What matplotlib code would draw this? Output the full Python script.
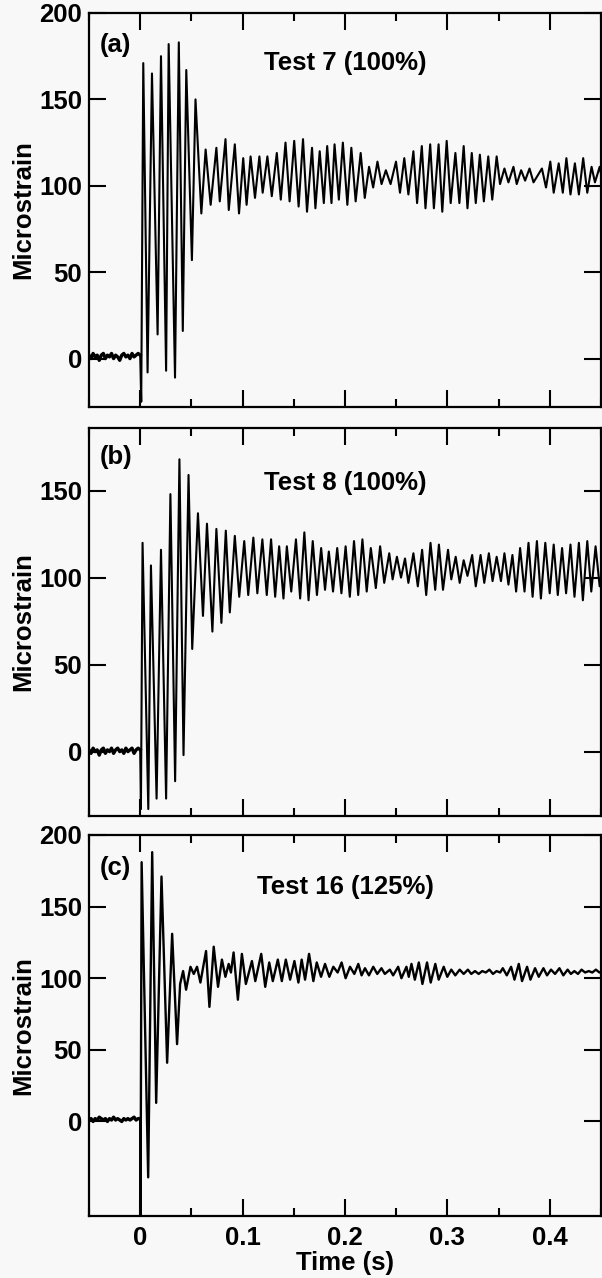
import matplotlib
matplotlib.use("Agg")
import matplotlib.pyplot as plt
from matplotlib.ticker import MultipleLocator, FixedLocator

plt.rcParams['font.family'] = ['Liberation Sans', 'DejaVu Sans']
plt.rcParams['font.weight'] = 'bold'

# ---------------- data ----------------
# pre-trigger baseline samples (time in s)
pre_t = [-0.050, -0.048, -0.046, -0.044, -0.042, -0.040, -0.038, -0.036, -0.034, -0.032,
         -0.030, -0.028, -0.026, -0.024, -0.022, -0.020, -0.018, -0.016, -0.014, -0.012,
         -0.010, -0.008, -0.006, -0.004, -0.002]
pre_a = [2, 0, 3, 1, 2, -1, 2, 3, 0, 2, 1, 3, 0, 2, 1, -1, 2, 3, 1, 2, 0, 3, 1, 2, 3]
pre_b = [1, -1, 2, 0, 1, -2, 1, 2, -1, 1, 0, 2, -1, 1, 2, 0, 1, -1, 2, 0, 1, 2, -1, 1, 2]
pre_c = [1, 2, 0, 2, 1, 3, 2, 1, 2, 0, 2, 1, 3, 1, 2, 1, 0, 2, 1, 2, 1, 2, 3, 1, 2]

# Test 7 : successive peaks / troughs of the strain trace
a_t = [0.0, 0.001, 0.003, 0.0072, 0.0115, 0.017, 0.0203, 0.0253, 0.0278, 0.034,
       0.0377, 0.0416, 0.045, 0.0505, 0.054, 0.0597, 0.0639, 0.0688, 0.0744, 0.0777,
       0.0833, 0.0865, 0.0924, 0.0965, 0.1006, 0.1039, 0.1078, 0.1121, 0.1164, 0.1196,
       0.1242, 0.1285, 0.1334, 0.1373, 0.1419, 0.1459, 0.1504, 0.1547, 0.159, 0.1629,
       0.1678, 0.1711, 0.1753, 0.1793, 0.1826, 0.1868, 0.1898, 0.194, 0.1979, 0.2023,
       0.2062, 0.2104, 0.2153, 0.2193, 0.2235, 0.2275, 0.2317, 0.2357, 0.2399, 0.2445,
       0.2498, 0.2537, 0.2579, 0.2619, 0.2668, 0.2704, 0.275, 0.2786, 0.2832, 0.2868,
       0.2914, 0.295, 0.2993, 0.3032, 0.3078, 0.3117, 0.3159, 0.3196, 0.3238, 0.3277,
       0.3317, 0.3356, 0.3399, 0.3438, 0.3481, 0.3514, 0.3557, 0.3596, 0.3645, 0.3677,
       0.372, 0.3759, 0.3802, 0.3841, 0.3923, 0.3963, 0.4005, 0.4038, 0.4087, 0.4127,
       0.4162, 0.4202, 0.4245, 0.4284, 0.4326, 0.4366, 0.4408, 0.4441, 0.4487, 0.452]
a_v = [2, -25, 171, -8, 165, 14, 175, -7, 182, -11,
       183, 16, 167, 57, 150, 84, 121, 89, 122, 91,
       127, 86, 124, 84, 116, 89, 117, 93, 117, 96,
       117, 94, 119, 92, 125, 91, 126, 88, 127, 85,
       122, 87, 120, 90, 123, 90, 124, 92, 125, 89,
       122, 91, 119, 93, 111, 99, 114, 101, 109, 101,
       114, 96, 116, 95, 120, 90, 123, 87, 124, 87,
       124, 85, 126, 90, 119, 90, 123, 87, 119, 90,
       118, 91, 117, 92, 117, 101, 110, 102, 111, 101,
       109, 103, 110, 102, 110, 99, 114, 96, 113, 96,
       116, 95, 113, 95, 116, 96, 111, 102, 111, 101]

# Test 8
b_t = [0.0, 0.0007, 0.0023, 0.0079, 0.0105, 0.016, 0.0203, 0.0253, 0.0295, 0.0341,
       0.0383, 0.0423, 0.0472, 0.0508, 0.0564, 0.0613, 0.0652, 0.0705, 0.0744, 0.0793,
       0.0836, 0.0875, 0.0924, 0.0967, 0.1016, 0.1055, 0.1105, 0.1144, 0.1193, 0.1236,
       0.1278, 0.1318, 0.1357, 0.1399, 0.1432, 0.1475, 0.1521, 0.1562, 0.1603, 0.1644,
       0.1685, 0.1726, 0.1767, 0.1805, 0.1842, 0.1883, 0.1924, 0.1965, 0.2006, 0.2047,
       0.2088, 0.2129, 0.217, 0.2212, 0.2252, 0.2301, 0.2343, 0.2383, 0.2432, 0.2465,
       0.2507, 0.2547, 0.2586, 0.2619, 0.2668, 0.2711, 0.2753, 0.2793, 0.2835, 0.2881,
       0.2917, 0.2957, 0.3006, 0.3038, 0.3081, 0.312, 0.3159, 0.3196, 0.3242, 0.3277,
       0.3324, 0.336, 0.3405, 0.3441, 0.3481, 0.3523, 0.3557, 0.3596, 0.3635, 0.3671,
       0.371, 0.3753, 0.3792, 0.3832, 0.3874, 0.3913, 0.3956, 0.3999, 0.4038, 0.4078,
       0.412, 0.4159, 0.4202, 0.4241, 0.4284, 0.4323, 0.4366, 0.4405, 0.4447, 0.4487,
       0.452]
b_v = [1, -33, 120, -33, 107, -27, 116, -27, 148, -17,
       168, -2, 159, 59, 137, 78, 131, 69, 128, 74,
       127, 80, 124, 89, 121, 90, 123, 91, 122, 90,
       122, 89, 118, 88, 118, 92, 122, 88, 126, 87,
       121, 90, 117, 93, 115, 92, 117, 91, 118, 89,
       121, 90, 122, 92, 117, 94, 118, 97, 114, 99,
       112, 100, 111, 97, 114, 95, 116, 90, 120, 93,
       119, 93, 116, 99, 112, 97, 110, 101, 113, 95,
       113, 97, 114, 98, 112, 98, 114, 96, 113, 92,
       117, 92, 120, 89, 121, 88, 120, 91, 119, 90,
       117, 91, 119, 89, 120, 87, 121, 92, 118, 95,
       105]

# Test 16
c_t = [0.0, 0.0003, 0.0014, 0.0078, 0.0117, 0.0156, 0.0208, 0.0263, 0.0312, 0.036,
       0.039, 0.0419, 0.0448, 0.0491, 0.0523, 0.0555, 0.0588, 0.0643, 0.0676, 0.0718,
       0.076, 0.0798, 0.0832, 0.0864, 0.0886, 0.0912, 0.0954, 0.0993, 0.1032, 0.1091,
       0.1124, 0.1182, 0.1221, 0.126, 0.1295, 0.1344, 0.1383, 0.1422, 0.1464, 0.1506,
       0.1545, 0.1577, 0.161, 0.1649, 0.1691, 0.1724, 0.1766, 0.1805, 0.1847, 0.1886,
       0.1928, 0.1967, 0.2006, 0.2049, 0.2091, 0.213, 0.2162, 0.2195, 0.2234, 0.2276,
       0.2315, 0.2356, 0.2389, 0.2438, 0.247, 0.2519, 0.2551, 0.26, 0.2623, 0.2649,
       0.2682, 0.2721, 0.2756, 0.2801, 0.2837, 0.2882, 0.2915, 0.2964, 0.2999, 0.3038,
       0.3077, 0.312, 0.3159, 0.32, 0.3233, 0.327, 0.3305, 0.334, 0.3375, 0.341,
       0.3445, 0.348, 0.3515, 0.3541, 0.358, 0.3622, 0.3655, 0.3697, 0.3729, 0.3778,
       0.3811, 0.3856, 0.3892, 0.3938, 0.3973, 0.4012, 0.4051, 0.4094, 0.4132, 0.4174,
       0.4206, 0.424, 0.4275, 0.431, 0.4345, 0.438, 0.4415, 0.445, 0.4485, 0.452]
c_v = [2, -70, 181, -39, 188, 13, 171, 41, 131, 54,
       96, 105, 92, 108, 103, 108, 97, 119, 80, 122,
       94, 113, 101, 110, 104, 118, 85, 117, 96, 112,
       98, 117, 94, 111, 98, 113, 98, 113, 99, 112,
       97, 113, 99, 117, 98, 111, 101, 110, 101, 108,
       104, 111, 100, 108, 103, 110, 102, 107, 102, 108,
       103, 107, 103, 106, 102, 108, 100, 108, 101, 110,
       99, 111, 96, 111, 97, 110, 99, 108, 101, 106,
       102, 106, 103, 106, 103, 105, 103, 105, 104, 106,
       103, 105, 104, 107, 102, 108, 99, 110, 98, 108,
       99, 107, 101, 107, 102, 106, 103, 107, 102, 106,
       103, 105, 103, 106, 104, 105, 104, 106, 104, 105]

panels = [
    dict(tag="(a)", title="Test 7 (100%)", pre=pre_a, t=a_t, v=a_v,
         ylim=(-28, 200), yticks=[0, 50, 100, 150, 200], tag_y=0.919, title_y=0.873),
    dict(tag="(b)", title="Test 8 (100%)", pre=pre_b, t=b_t, v=b_v,
         ylim=(-37, 186), yticks=[0, 50, 100, 150], tag_y=0.925, title_y=0.858),
    dict(tag="(c)", title="Test 16 (125%)", pre=pre_c, t=c_t, v=c_v,
         ylim=(-66, 200), yticks=[0, 50, 100, 150, 200], tag_y=0.913, title_y=0.864),
]
xticks = [0, 0.1, 0.2, 0.3, 0.4]
xticklabels = ["0", "0.1", "0.2", "0.3", "0.4"]

# ---------------- figure ----------------
W, H = 602, 1278
fig = plt.figure(figsize=(W / 100, H / 100), dpi=100, facecolor='#f8f8f8')
boxes = [(13, 407), (428, 816), (835, 1216)]
left_px, right_px = 89, 601
FS = 18.5
trace_lw = [1.5, 1.5, 1.7]

for i, (p, (top, bot)) in enumerate(zip(panels, boxes)):
    ax = fig.add_axes([left_px / W, 1 - bot / H, (right_px - left_px) / W, (bot - top) / H])
    ax.set_facecolor('#f8f8f8')
    ax.plot(pre_t + [p["t"][0]], p["pre"] + [p["v"][0]], color='black', lw=2.4,
            solid_joinstyle='round')
    ax.plot(p["t"], p["v"], color='black', lw=trace_lw[i], solid_joinstyle='round')
    ax.set_xlim(-0.05, 0.45)
    ax.set_ylim(*p["ylim"])
    ax.xaxis.set_major_locator(FixedLocator(xticks))
    ax.xaxis.set_minor_locator(MultipleLocator(0.05))
    ax.set_yticks(p["yticks"])
    ax.tick_params(which='both', direction='in', top=True, right=True, width=1.5,
                   labelsize=FS, pad=5)
    ax.tick_params(which='major', length=12)
    ax.tick_params(which='minor', length=6)
    ax.tick_params(axis='y', which='minor', left=False, right=False)
    for s in ax.spines.values():
        s.set_linewidth(1.6)
    for lab in ax.get_yticklabels():
        lab.set_fontweight('bold')
    if i < 2:
        ax.set_xticklabels([])
    else:
        ax.set_xticklabels(xticklabels, fontweight='bold', fontsize=FS)
        ax.tick_params(axis='x', pad=7)
        ax.set_xlabel("Time (s)", fontsize=FS, fontweight='bold')
        ax.xaxis.set_label_coords(0.5, -0.093)
    ax.set_ylabel("Microstrain", fontsize=FS, fontweight='bold')
    ax.yaxis.set_label_coords(-0.105, 0.5)
    ax.text(0.021, p["tag_y"], p["tag"], transform=ax.transAxes, fontsize=FS,
            fontweight='bold', ha='left', va='center')
    ax.text(0.5, p["title_y"], p["title"], transform=ax.transAxes, fontsize=FS,
            fontweight='bold', ha='center', va='center')

fig.savefig("out.png", dpi=100, facecolor=fig.get_facecolor())
